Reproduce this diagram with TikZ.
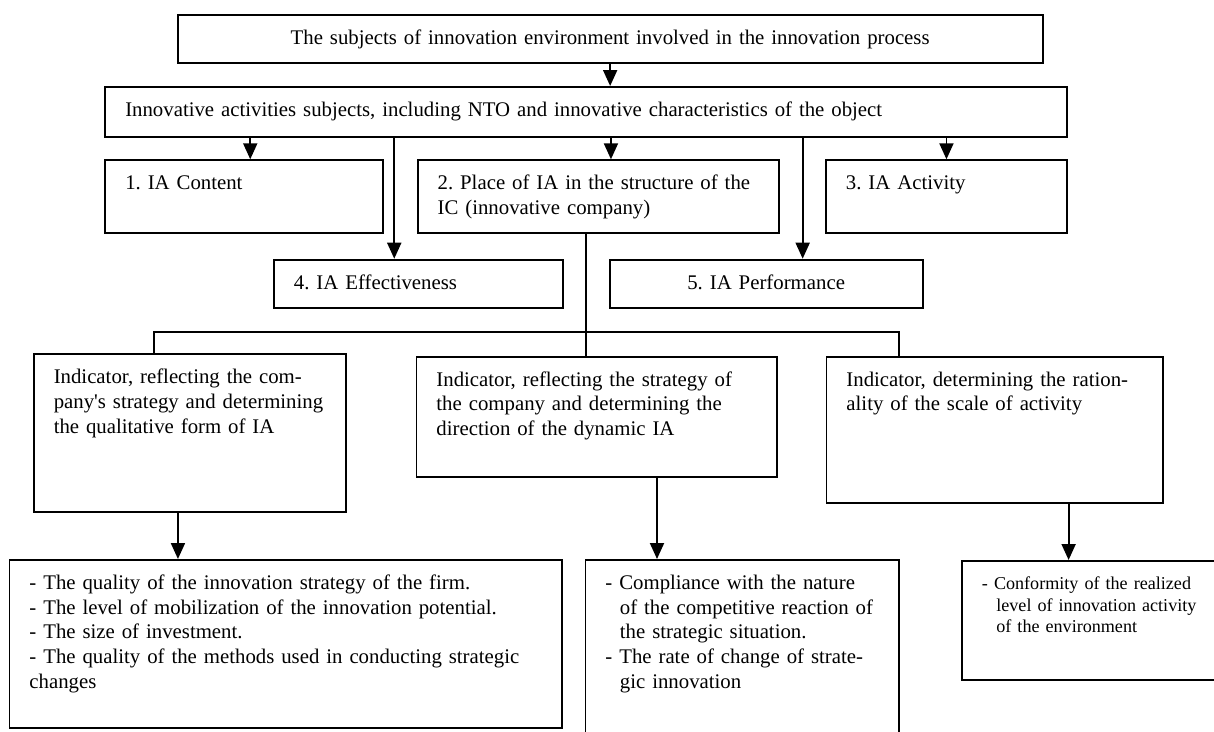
\documentclass[tikz,border=0pt]{standalone}
\usepackage{fontspec}
\setmainfont{Liberation Serif}
\usetikzlibrary{arrows.meta}
\frenchspacing

\tikzset{
  box/.style={draw, line width=1.9pt, anchor=north west, inner xsep=20pt,
    inner ysep=0pt, text height=29.5pt, align=left,
    font=\fontsize{20.8}{24.7}\selectfont},
  smallbox/.style={font=\fontsize{18.1}{21.7}\selectfont, text height=28.5pt},
  arr/.style={draw, line width=1.9pt, -{Triangle[length=16pt,width=14pt]}},
}

\begin{document}
\begin{tikzpicture}[x=1pt,y=-1pt]

        \useasboundingbox (0,0) rectangle (1214,731);
        \clip (0,0) rectangle (1214,731);

        \begin{scope}[every node/.style={box}]
          % top levels
          \node[align=center, text width=825pt, text depth=18.8pt] (top) at (176.7,14)
            {The subjects of innovation environment involved in the innovation process};
          \node[text width=921.7pt, text depth=20.2pt] (main) at (104.3,86)
            {Innovative activities subjects, including NTO and innovative characteristics of the object};
          % five aspects
          \node[text width=237.4pt, text depth=42.9pt] (b1) at (104.3,159.3) {1. IA Content};
          \node[text width=321.6pt, text depth=42.9pt] (b2) at (416.7,159.3)
            {\mbox{2. Place of IA in the structure of the}\\IC (innovative company)};
          \node[text width=201pt, text depth=42.9pt] (b3) at (825,159.3) {3. IA Activity};
          \node[text width=248.6pt, text depth=18.8pt] (b4) at (273,258.7) {4. IA Effectiveness};
          \node[align=center, text width=273.2pt, text depth=18.8pt] (b5) at (608.6,258.7)
            {5. IA Performance};
          % indicators
          \node[text width=272.4pt, text depth=128.2pt] (ind1) at (32.8,353.3)
            {Indicator, reflecting the com-\\\mbox{pany\textquotesingle s strategy and determining}\\the qualitative form of IA};
          \node[text width=320.7pt, text depth=90.5pt] (ind2) at (415.5,355.7)
            {Indicator, reflecting the strategy of\\the company and determining the\\direction of the dynamic IA};
          \node[text width=296.3pt, text depth=117.1pt] (ind3) at (825.5,355.7)
            {Indicator, determining the ration-\\ality of the scale of activity};
          % criteria
          \node[text width=512.7pt, text depth=138.2pt] (bot1) at (8.5,559)
            {- The quality of the innovation strategy of the firm.\\
             - The level of mobilization of the innovation potential.\\
             - The size of investment.\\
             - The quality of the methods used in conducting strategic\\
             changes};
          \node[text width=273.1pt, text depth=170.5pt] (bot2) at (584.5,559)
            {- Compliance with the nature\\
             \mbox{\hspace*{14.5pt}of the competitive reaction of}\\
             \hspace*{14.5pt}the strategic situation.\\
             - The rate of change of strate-\\
             \hspace*{14.5pt}gic innovation};
          \node[smallbox, text width=240pt, text depth=90.8pt] (bot3) at (961,560)
            {- Conformity of the realized\\
             \hspace*{14.4pt}level of innovation activity\\
             \hspace*{14.4pt}of the environment};
        \end{scope}

        \begin{scope}[every edge/.style={arr}]
          \path (top.south) edge (top.south |- main.north);
          \path ([xshift=6.3pt]b1.north |- main.south) edge ([xshift=6.3pt]b1.north);
          \path ([xshift=-24pt]b4.north |- main.south) edge ([xshift=-24pt]b4.north);
          \path ([xshift=12.5pt]b2.north |- main.south) edge ([xshift=12.5pt]b2.north);
          \path ([xshift=36.5pt]b5.north |- main.south) edge ([xshift=36.5pt]b5.north);
          \path (b3.north |- main.south) edge (b3.north);
          \path ([xshift=-12pt]ind1.south) edge ([xshift=-12pt]ind1.south |- bot1.north);
          \path ([xshift=60.2pt]ind2.south) edge ([xshift=60.2pt]ind2.south |- bot2.north);
          \path ([xshift=74pt]ind3.south) edge ([xshift=74pt]ind3.south |- bot3.north);
        \end{scope}

        % fork to the indicators
        \coordinate (fork) at (585,331.7);
        \draw[line width=1.9pt] ([xshift=-12.5pt]b2.south) -- ([xshift=-12.5pt]b2.south |- ind2.north);
        \draw[line width=1.9pt] ([xshift=-36pt]ind1.north) |- (fork) -| ([xshift=-96pt]ind3.north);

      \end{tikzpicture}
\end{document}
